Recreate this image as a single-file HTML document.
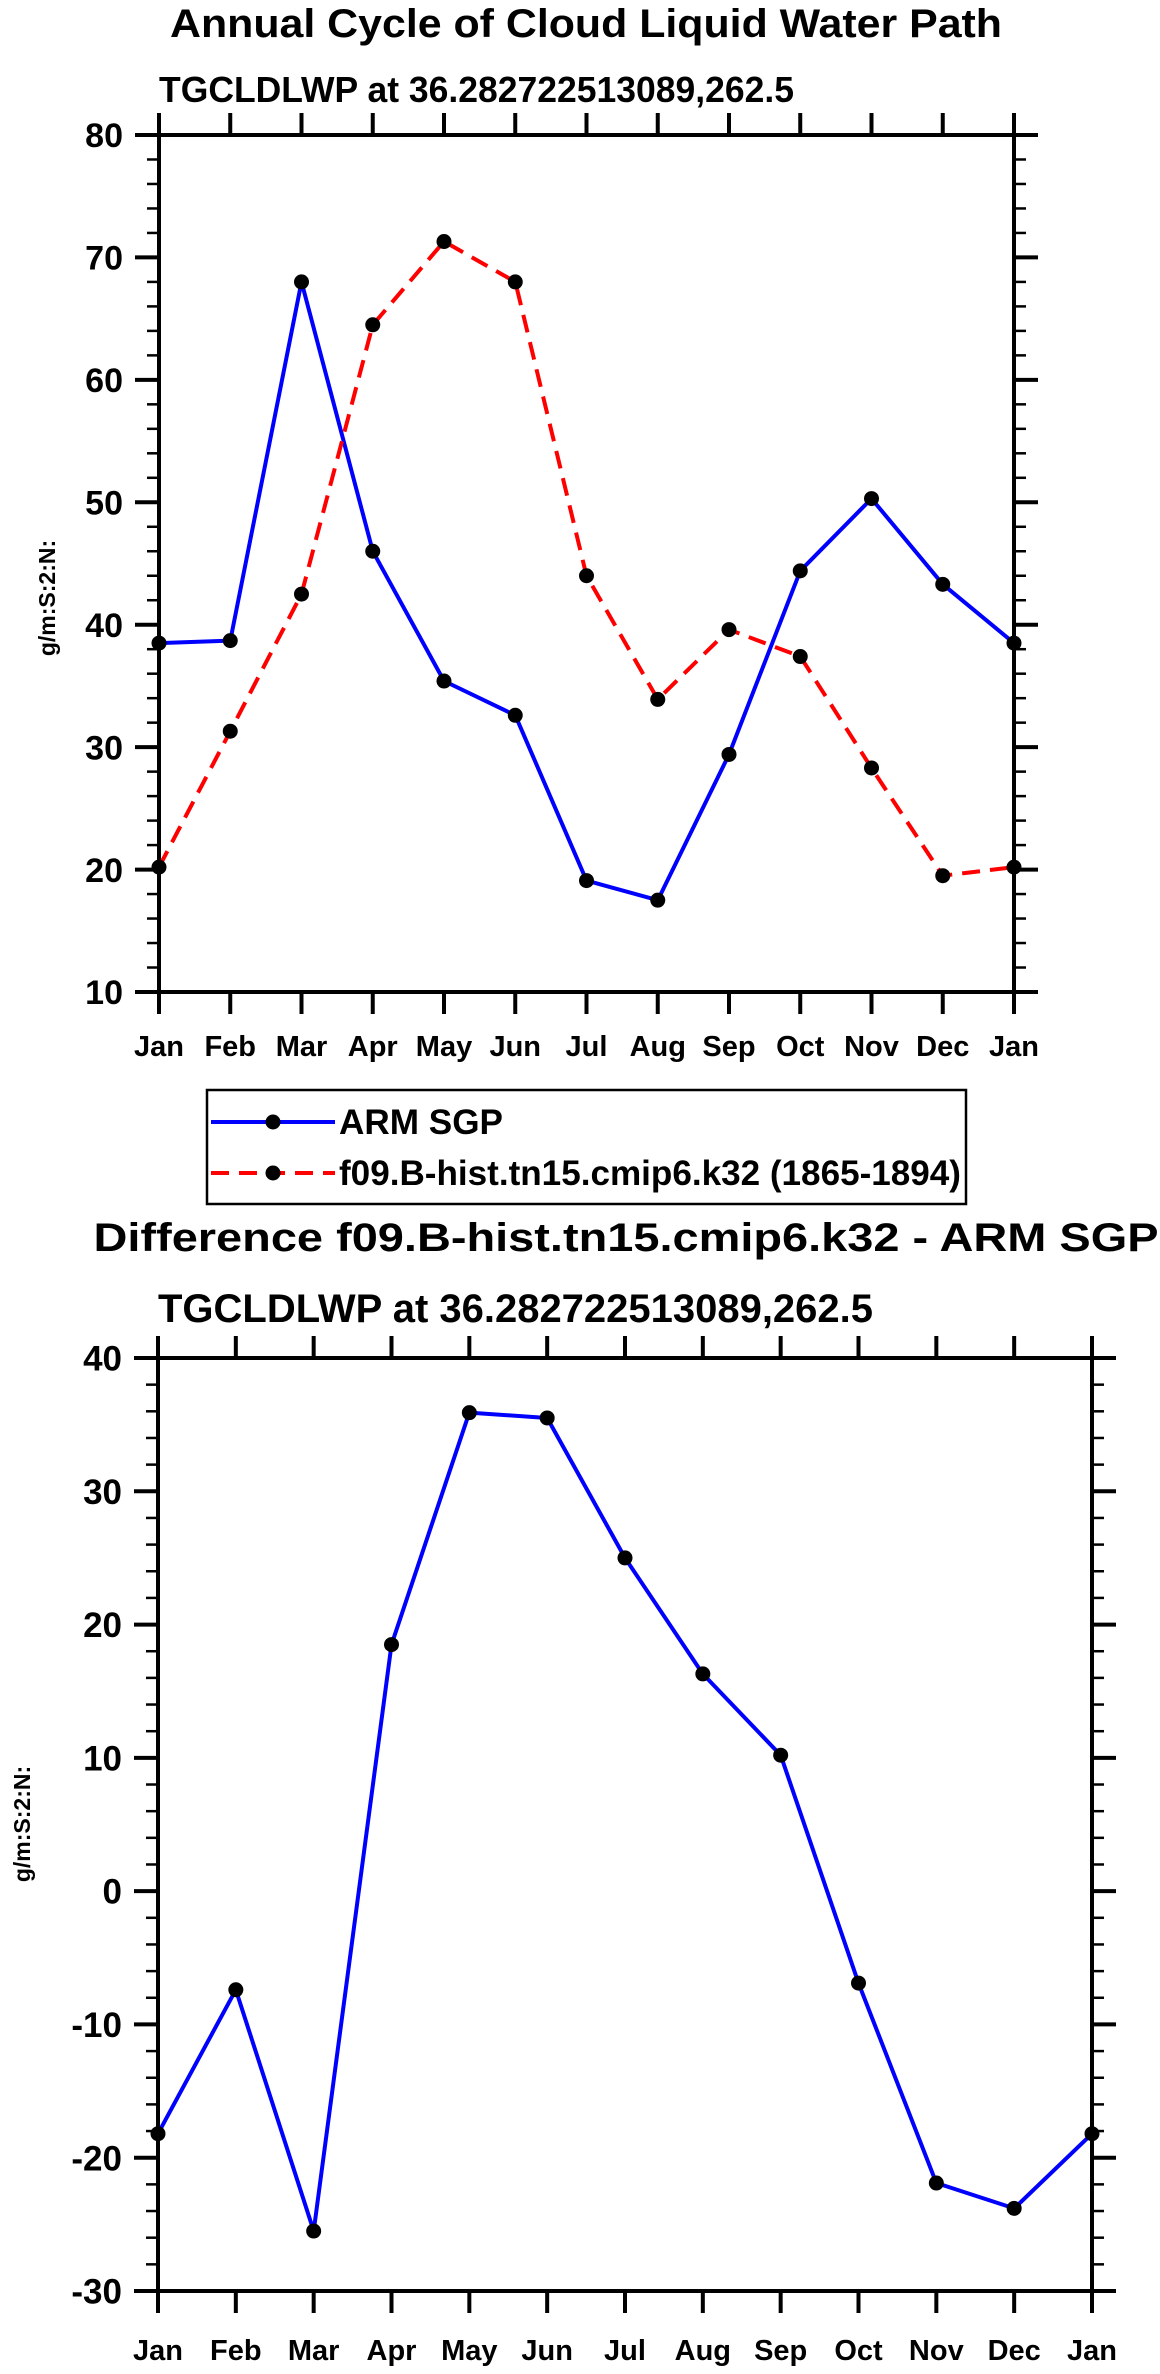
<!DOCTYPE html>
<html><head><meta charset="utf-8">
<style>
html,body{margin:0;padding:0;background:#fff;}
svg{display:block;font-family:"Liberation Sans",Arial,sans-serif;font-weight:bold;}
</style></head>
<body>
<svg id="chart" width="1160" height="2374" viewBox="0 0 1160 2374" xmlns="http://www.w3.org/2000/svg">
<g id="top"></g>
<g id="bot"></g>
<g id="legend"></g>
</svg>
<script>
const months = ["Jan","Feb","Mar","Apr","May","Jun","Jul","Aug","Sep","Oct","Nov","Dec","Jan"];
const armValues = [38.5,38.7,68.0,46.0,35.4,32.6,19.1,17.5,29.4,44.4,50.3,43.3,38.5];
const modelValues = [20.2,31.3,42.5,64.5,71.3,68.0,44.0,33.9,39.6,37.4,28.3,19.5,20.2];
const diffValues = [-18.2,-7.4,-25.5,18.5,35.9,35.5,25.0,16.3,10.2,-6.9,-21.9,-23.8,-18.2];
const topTicks = [10,20,30,40,50,60,70,80];
const botTicks = [-30,-20,-10,0,10,20,30,40];

const NS="http://www.w3.org/2000/svg";
function mk(tag,attrs,parent,text){
  const e=document.createElementNS(NS,tag);
  for(const k in attrs) e.setAttribute(k,attrs[k]);
  if(text!==undefined) e.textContent=text;
  parent.appendChild(e); return e;
}

function panel(g,box,yMin,yMax,yTicks,series,o){
  const {x0,x1,y0,y1}=box;
  const xs=i=>x0+(x1-x0)*i/(months.length-1);
  const ys=v=>y1-(y1-y0)*(v-yMin)/(yMax-yMin);
  const t=mk('text',{x:o.titleX,y:o.titleY,'font-size':o.titleSize,'text-anchor':'middle',textLength:o.titleLen,lengthAdjust:'spacingAndGlyphs'},g,o.title);
  
  
  const st=mk('text',{x:x0,y:o.subY,'font-size':o.subSize,textLength:o.subLen,lengthAdjust:'spacingAndGlyphs'},g,'TGCLDLWP at 36.282722513089,262.5');
  
  
  const step=(yTicks[1]-yTicks[0])/5;
  for(let v=yMin; v<=yMax+1e-9; v+=step){
    const y=ys(v);
    const r=(v-yTicks[0])/(yTicks[1]-yTicks[0]);
    const major=Math.abs(r-Math.round(r))<1e-6;
    const L=major?o.majLen:o.minLen;
    const a=mk('line',{x1:x0-L,y1:y,x2:x0,y2:y,stroke:'#000','stroke-width':major?4:2.5},g);
    
    
    const b=mk('line',{x1:x1,y1:y,x2:x1+L,y2:y,stroke:'#000','stroke-width':major?4:2.5},g);
    
    
  }
  yTicks.forEach(v=>{
    const tl=mk('text',{x:x0-o.majLen-12,y:ys(v)+o.tickSize*0.36,'font-size':o.tickSize,'text-anchor':'end'},g,String(v));
    
    
  });
  months.forEach((m,i)=>{
    const x=xs(i);
    const a=mk('line',{x1:x,y1:y0-o.majLen+2,x2:x,y2:y0,stroke:'#000','stroke-width':4},g);
    
    
    const b=mk('line',{x1:x,y1:y1,x2:x,y2:y1+o.majLen-2,stroke:'#000','stroke-width':4},g);
    
    
    const tl=mk('text',{x:x,y:o.xLabY,'font-size':o.xLabSize,'text-anchor':'middle'},g,m);
    
    
  });
  const fr=mk('rect',{x:x0,y:y0,width:x1-x0,height:y1-y0,fill:'none',stroke:'#000','stroke-width':4},g);
  
  
  const yl=mk('text',{x:0,y:0,'font-size':o.ylabSize,'text-anchor':'middle',transform:`translate(${o.ylabX},${o.ylabY}) rotate(-90)`},g,'g/m:S:2:N:');
  
  
  series.forEach(s=>{
    const pts=s.values.map((v,i)=>xs(i).toFixed(1)+','+ys(v).toFixed(1)).join(' ');
    const pl=mk('polyline',{points:pts,fill:'none',stroke:s.color,'stroke-width':4,'stroke-dasharray':s.dash||'none','stroke-linejoin':'round'},g);
    
    
    s.values.forEach((v,i)=>{
      const c=mk('circle',{cx:xs(i),cy:ys(v),r:7.5,fill:'#000'},g);
      
      
    });
  });
}

panel(document.getElementById('top'),{x0:159,x1:1014,y0:135,y1:992},10,80,topTicks,
 [{name:'arm-sgp',values:armValues,color:'#0000ff'},{name:'model',values:modelValues,color:'#ff0000',dash:'18 10'}],
 {title:'Annual Cycle of Cloud Liquid Water Path',titleX:586,titleY:37,titleSize:40,titleLen:832,
  subY:102,subSize:36,subLen:635,majLen:24,minLen:12,tickSize:34,xLabY:1056,xLabSize:29,ylabSize:23,ylabX:55,ylabY:598});

panel(document.getElementById('bot'),{x0:158,x1:1092,y0:1358,y1:2291},-30,40,botTicks,
 [{name:'difference',values:diffValues,color:'#0000ff'}],
 {title:'Difference f09.B-hist.tn15.cmip6.k32 - ARM SGP',titleX:626,titleY:1251,titleSize:40,titleLen:1065,
  subY:1322,subSize:40,subLen:715,majLen:24,minLen:12,tickSize:35,xLabY:2360,xLabSize:29,ylabSize:23,ylabX:30,ylabY:1824});

const lg=document.getElementById('legend');
const box=mk('rect',{x:207,y:1090,width:759,height:114,fill:'#fff',stroke:'#000','stroke-width':2.5},lg);


[{y:1122,c:'#0000ff',d:'none',t:'ARM SGP',n:'legend-entry-arm',len:164},{y:1173,c:'#ff0000',d:'18 10',t:'f09.B-hist.tn15.cmip6.k32 (1865-1894)',n:'legend-entry-model',len:622}].forEach(e=>{
  const g=mk('g',{},lg);
  
  
  mk('line',{x1:211,y1:e.y,x2:335,y2:e.y,stroke:e.c,'stroke-width':4,'stroke-dasharray':e.d},g);
  mk('circle',{cx:273,cy:e.y,r:7.5,fill:'#000'},g);
  mk('text',{x:339,y:e.y+12,'font-size':35,textLength:e.len,lengthAdjust:'spacingAndGlyphs'},g,e.t);
});
</script>
</body></html>
